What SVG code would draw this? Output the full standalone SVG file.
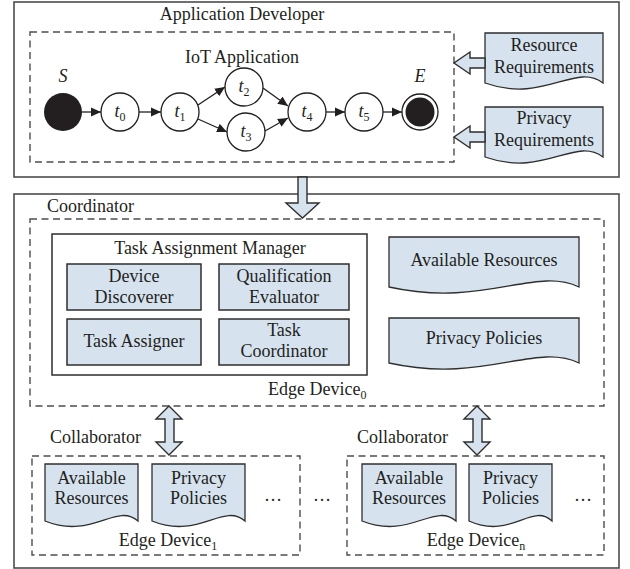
<svg xmlns="http://www.w3.org/2000/svg" width="630" height="569" viewBox="0 0 630 569">
  <style>
    text { font-family: "Liberation Serif", "Times New Roman", serif; font-size: 18px; fill: #231f20; }
    .mid { text-anchor: middle; }
    .it { font-style: italic; }
    .sub { font-size: 12px; }
    .frame { fill: #ffffff; stroke: #4d4d4d; stroke-width: 1.6; }
    .dash { fill: none; stroke: #4d4d4d; stroke-width: 1.4; stroke-dasharray: 7 4.5; }
    .box { fill: #d6e3ef; stroke: #2e2e2e; stroke-width: 1.5; }
    .panel { fill: #ffffff; stroke: #2e2e2e; stroke-width: 1.5; }
    .doc { fill: #d6e3ef; stroke: #2e2e2e; stroke-width: 1.3; }
    .block { fill: #d6e3ef; stroke: #2e2e2e; stroke-width: 1.4; stroke-linejoin: miter; }
    .node { fill: #ffffff; stroke: #231f20; stroke-width: 1.3; }
    .flow { fill: none; stroke: #231f20; stroke-width: 1.3; }
  </style>
  <defs>
    <marker id="tri" markerUnits="userSpaceOnUse" markerWidth="10" markerHeight="10" viewBox="0 0 10 10" refX="10" refY="5" orient="auto">
      <path d="M0,0.5 L10,5 L0,9.5 Z" fill="#231f20"/>
    </marker>
  </defs>

  <!-- outer frames -->
  <rect id="developer" class="frame" x="14" y="2" width="605" height="175"/>
  <text class="mid" x="242" y="20">Application Developer</text>
  <rect id="coordinator" class="frame" x="14" y="194" width="605" height="374"/>
  <text x="47" y="212">Coordinator</text>

  <!-- IoT application workflow -->
  <g id="iot-app">
    <rect class="dash" x="30" y="32" width="424" height="130"/>
    <text class="mid" x="242" y="63">IoT Application</text>
  </g>

  <g id="node-S">
    <circle cx="63" cy="112" r="19" fill="#231f20"/>
    <text class="mid it" x="63" y="82">S</text>
  </g>
  <g id="node-t0">
    <circle class="node" cx="120" cy="112" r="19"/>
    <text class="mid" x="120" y="117"><tspan class="it">t</tspan><tspan class="sub" dy="4">0</tspan></text>
  </g>
  <g id="node-t1">
    <circle class="node" cx="180" cy="112" r="19"/>
    <text class="mid" x="180" y="117"><tspan class="it">t</tspan><tspan class="sub" dy="4">1</tspan></text>
  </g>
  <g id="node-t2">
    <circle class="node" cx="244" cy="87" r="19"/>
    <text class="mid" x="244" y="92"><tspan class="it">t</tspan><tspan class="sub" dy="4">2</tspan></text>
  </g>
  <g id="node-t3">
    <circle class="node" cx="246" cy="132" r="19"/>
    <text class="mid" x="246" y="137"><tspan class="it">t</tspan><tspan class="sub" dy="4">3</tspan></text>
  </g>
  <g id="node-t4">
    <circle class="node" cx="307" cy="112" r="19"/>
    <text class="mid" x="307" y="117"><tspan class="it">t</tspan><tspan class="sub" dy="4">4</tspan></text>
  </g>
  <g id="node-t5">
    <circle class="node" cx="364" cy="112" r="19"/>
    <text class="mid" x="364" y="117"><tspan class="it">t</tspan><tspan class="sub" dy="4">5</tspan></text>
  </g>
  <g id="node-E">
    <circle class="node" cx="420" cy="112" r="18"/>
    <circle cx="420" cy="112" r="14.5" fill="#231f20"/>
    <text class="mid it" x="420" y="82">E</text>
  </g>

  <!-- requirement documents -->
  <g id="resource-req">
    <path class="doc" d="M485,33 H603 V83 C575,62 544,104 485,83 Z"/>
    <text class="mid" x="544" y="51">Resource</text>
    <text class="mid" x="544" y="73">Requirements</text>
  </g>
  <g id="privacy-req">
    <path class="doc" d="M485,107 H603 V157 C575,136 544,178 485,157 Z"/>
    <text class="mid" x="544" y="124">Privacy</text>
    <text class="mid" x="544" y="146">Requirements</text>
  </g>

  <!-- edge device 0 -->
  <g id="edge-device-0">
    <rect class="dash" x="30" y="219" width="574" height="187"/>
    <text x="268" y="395">Edge Device<tspan class="sub" dy="4">0</tspan></text>
  </g>
  <g id="task-assignment-manager">
    <rect class="panel" x="52" y="234" width="315" height="141"/>
    <text class="mid" x="210" y="254">Task Assignment Manager</text>
  </g>
  <g id="device-discoverer">
    <rect class="box" x="67" y="264" width="134" height="46"/>
    <text class="mid" x="134" y="282">Device</text>
    <text class="mid" x="134" y="303">Discoverer</text>
  </g>
  <g id="qualification-evaluator">
    <rect class="box" x="219" y="264" width="130" height="46"/>
    <text class="mid" x="284" y="282">Qualification</text>
    <text class="mid" x="284" y="303">Evaluator</text>
  </g>
  <g id="task-assigner">
    <rect class="box" x="67" y="319" width="134" height="46"/>
    <text class="mid" x="134" y="347">Task Assigner</text>
  </g>
  <g id="task-coordinator">
    <rect class="box" x="219" y="319" width="130" height="46"/>
    <text class="mid" x="284" y="336">Task</text>
    <text class="mid" x="284" y="357">Coordinator</text>
  </g>
  <g id="available-resources-0">
    <path class="doc" d="M389,237 H579 V287 C535,266 484,308 389,287 Z"/>
    <text class="mid" x="484" y="266">Available Resources</text>
  </g>
  <g id="privacy-policies-0">
    <path class="doc" d="M389,318 H579 V363 C535,342 484,384 389,363 Z"/>
    <text class="mid" x="484" y="344">Privacy Policies</text>
  </g>

  <!-- collaborators -->
  <text x="50" y="443">Collaborator</text>
  <text x="357" y="443">Collaborator</text>

  <g id="edge-device-1">
    <rect class="dash" x="32" y="456" width="268" height="99"/>
    <text class="mid" x="168" y="546">Edge Device<tspan class="sub" dy="4">1</tspan></text>
    <text class="mid" x="273" y="501">…</text>
  </g>
  <g id="available-resources-1">
    <path class="doc" d="M45,464 H138 V521 C116,502 92,540 45,521 Z"/>
    <text class="mid" x="91.5" y="484">Available</text>
    <text class="mid" x="91.5" y="504">Resources</text>
  </g>
  <g id="privacy-policies-1">
    <path class="doc" d="M152,464 H245 V521 C223,502 199,540 152,521 Z"/>
    <text class="mid" x="198.5" y="484">Privacy</text>
    <text class="mid" x="198.5" y="504">Policies</text>
  </g>

  <text class="mid" x="322" y="501">…</text>

  <g id="edge-device-n">
    <rect class="dash" x="347" y="456" width="257" height="99"/>
    <text class="mid" x="476" y="546">Edge Device<tspan class="sub" dy="4">n</tspan></text>
    <text class="mid" x="583" y="501">…</text>
  </g>
  <g id="available-resources-n">
    <path class="doc" d="M362,464 H456 V521 C434,502 410,540 362,521 Z"/>
    <text class="mid" x="409" y="484">Available</text>
    <text class="mid" x="409" y="504">Resources</text>
  </g>
  <g id="privacy-policies-n">
    <path class="doc" d="M469,464 H552 V521 C532,502 511,540 469,521 Z"/>
    <text class="mid" x="510.5" y="484">Privacy</text>
    <text class="mid" x="510.5" y="504">Policies</text>
  </g>

  <!-- connectors -->
  <g id="connectors">
    <line class="flow" x1="82" y1="112" x2="101" y2="112" marker-end="url(#tri)"/>
    <line class="flow" x1="139" y1="112" x2="161" y2="112" marker-end="url(#tri)"/>
    <line class="flow" x1="198" y1="105" x2="225" y2="87" marker-end="url(#tri)"/>
    <line class="flow" x1="198" y1="119" x2="227" y2="132" marker-end="url(#tri)"/>
    <line class="flow" x1="263" y1="88" x2="288" y2="106" marker-end="url(#tri)"/>
    <line class="flow" x1="265" y1="131" x2="288" y2="118" marker-end="url(#tri)"/>
    <line class="flow" x1="326" y1="112" x2="345" y2="112" marker-end="url(#tri)"/>
    <line class="flow" x1="383" y1="112" x2="402" y2="112" marker-end="url(#tri)"/>

    <!-- block arrows -->
    <polygon class="block" points="485,58 470,58 470,52 454,63 470,74 470,68 485,68"/>
    <polygon class="block" points="485,132 470,132 470,126 454,137 470,148 470,142 485,142"/>
    <polygon class="block" points="298,177 307,177 307,203 319,203 302.5,218 286,203 298,203"/>
    <polygon class="block" points="169,406 182,419 174,419 174,442 182,442 169,455 156,442 165,442 165,419 156,419"/>
    <polygon class="block" points="477,406 490,419 482,419 482,442 490,442 477,455 464,442 473,442 473,419 464,419"/>
  </g>
</svg>
